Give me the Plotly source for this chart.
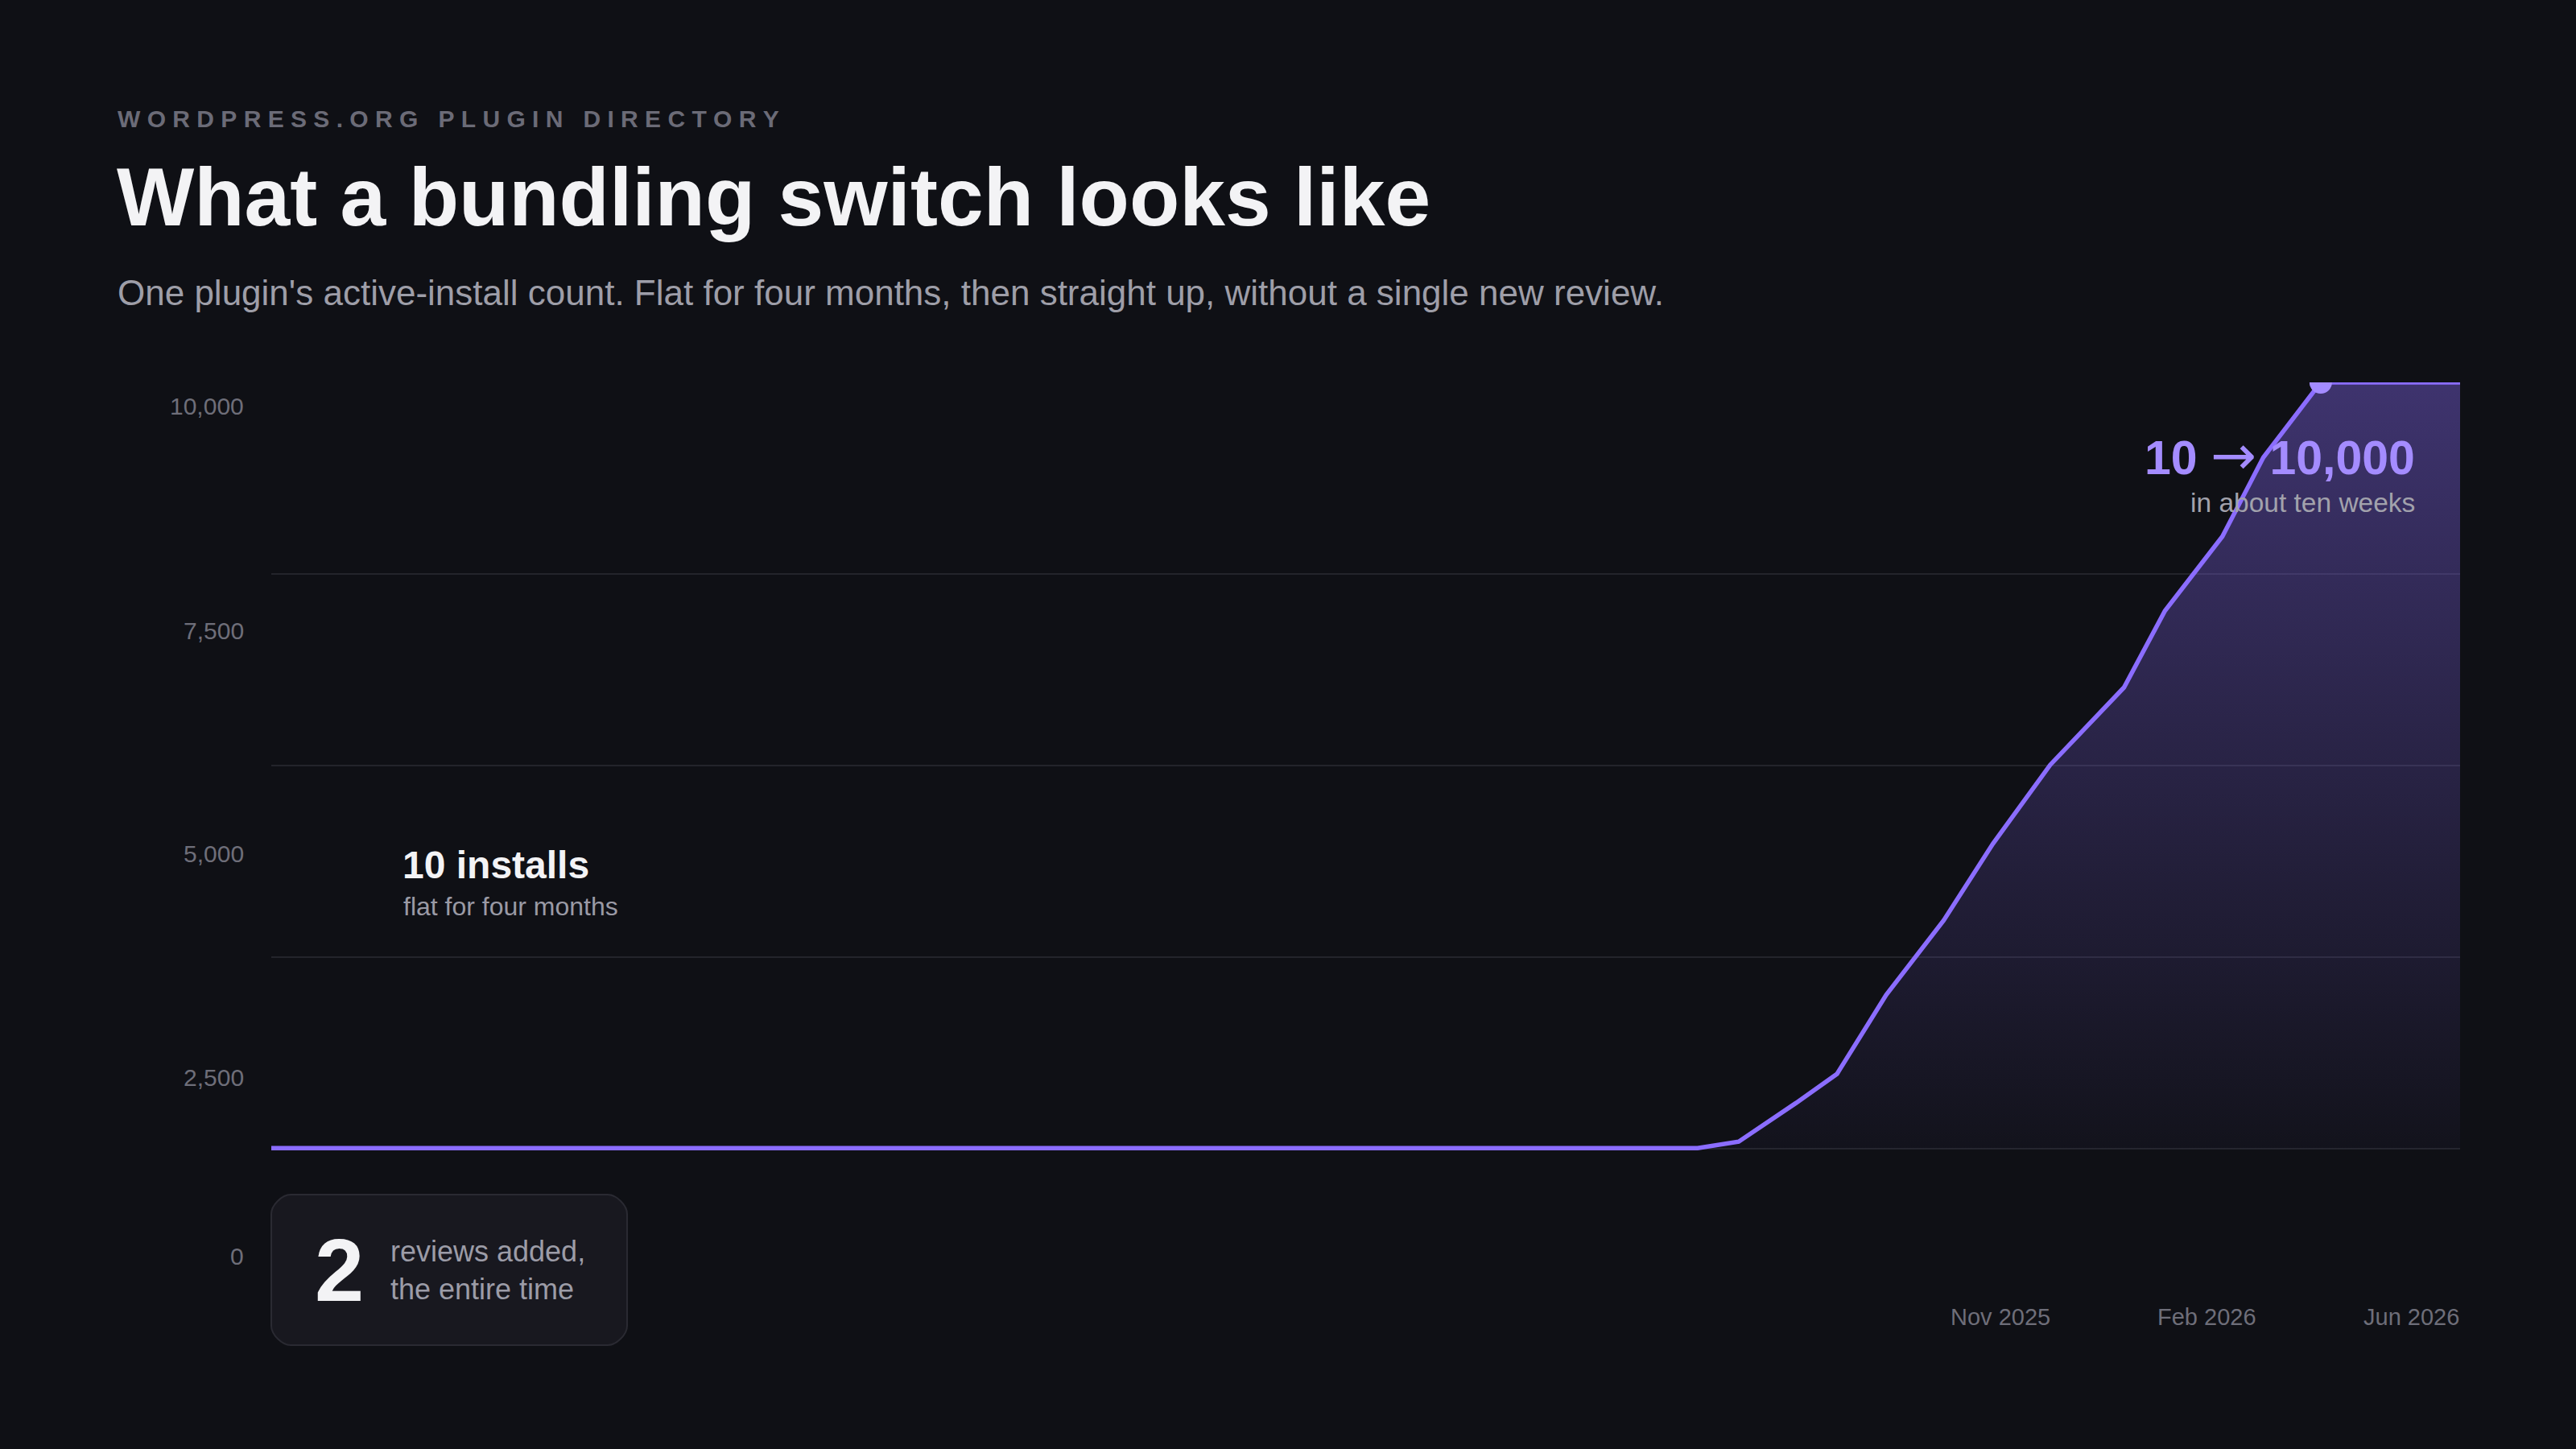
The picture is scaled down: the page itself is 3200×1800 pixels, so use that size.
import plotly.graph_objects as go

# --- data ---------------------------------------------------------------------
snapshot_dates = ["2025-07-01", "2025-12-22", "2025-12-27", "2026-01-03",
                  "2026-01-08", "2026-01-14", "2026-01-21", "2026-01-27",
                  "2026-02-03", "2026-02-12", "2026-02-17", "2026-02-24",
                  "2026-03-01", "2026-03-08", "2026-03-25"]
active_installs = [10, 10, 95, 600, 980, 2010, 2980, 3980, 5010, 6020, 7020,
                   7990, 9020, 10000, 10000]

y_tick_values = [0, 2500, 5000, 7500, 10000]
y_tick_labels = ["10,000", "7,500", "5,000", "2,500", "0"]
x_tick_labels = ["Nov 2025", "Feb 2026", "Jun 2026"]
reviews_added = 2

# --- page geometry (pixels of the 3200x1800 canvas) ---------------------------
W, H = 3200, 1800
L, R, T, B = 337, 3056, 475, 1433      # plot area edges
FONT = "Liberation Sans, Arial, Helvetica, sans-serif"
BG = "#0f1015"
PURPLE = "#8b6dff"
PURPLE_LIGHT = "#a48cff"


def px(x):
    return (x - L) / (R - L)


def py(y):
    return (B - y) / (B - T)


fig = go.Figure()

fig.add_trace(go.Scatter(
    x=snapshot_dates, y=active_installs, mode="lines",
    line=dict(color=PURPLE, width=5.5),
    fill="tozeroy",
    fillgradient=dict(type="vertical", start=0, stop=10000,
                      colorscale=[[0, "rgba(139,109,255,0.03)"],
                                  [1, "rgba(139,109,255,0.38)"]]),
    cliponaxis=True, hoverinfo="skip"))

peak = max(active_installs)
i_peak = active_installs.index(peak)
fig.add_trace(go.Scatter(
    x=[snapshot_dates[i_peak]], y=[peak], mode="markers",
    marker=dict(size=28, color=PURPLE_LIGHT, line=dict(width=0)),
    cliponaxis=True, hoverinfo="skip"))


def note(text, x, y, size, color, xanchor="left", yanchor="middle", bold=False):
    fig.add_annotation(
        text=text, x=px(x), y=py(y), xref="paper", yref="paper",
        showarrow=False, xanchor=xanchor, yanchor=yanchor, align="left",
        borderpad=0,
        font=dict(family=FONT, size=size, color=color,
                  weight="bold" if bold else "normal"))


# header (letter-spaced eyebrow built with no-break spaces)
eyebrow = "\u00a0\u00a0\u00a0".join(
    "\u00a0".join(word) for word in "WORDPRESS.ORG PLUGIN DIRECTORY".split())
note(eyebrow, 145, 147, 30, "#6b6b77", bold=True)
note("What a bundling switch looks like", 144, 245, 102, "#f3f3f5", bold=True)
note("One plugin's active-install count. Flat for four months, then straight up, "
     "without a single new review.", 145, 363, 44, "#9e9ea8")

# misaligned axis labels, as drawn in the original
for label, yc in zip(y_tick_labels, [504, 783, 1060, 1338, 1560]):
    note(label, 304, yc, 30, "#6e6e79", xanchor="right")
note(x_tick_labels[0], 2485, 1636, 29, "#6e6e79", xanchor="center")
note(x_tick_labels[1], 2741, 1636, 29, "#6e6e79", xanchor="center")
note(x_tick_labels[2], 3056, 1636, 29, "#6e6e79", xanchor="right")

# callouts
note(f"{active_installs[0]} installs", 499, 1074, 48, "#f3f3f5", bold=True)
note("flat for four months", 500, 1126, 32, "#9a9aa5")
arrow = ("<span style=\"font-family:'DejaVu Sans';font-weight:normal;"
         "font-size:68px\">\u2192</span>")
note(f"{active_installs[0]} {arrow} {peak:,}", 3001, 565, 59, PURPLE_LIGHT,
     xanchor="right", bold=True)
note("in about ten weeks", 3001, 624, 33.5, "#a2a2ac", xanchor="right")


# reviews card (rounded rectangle drawn as a path in paper space)
def rounded_box(x0, y0, x1, y1, r):
    k = 0.45 * r
    pts = [
        f"M {px(x0 + r)},{py(y0)}", f"L {px(x1 - r)},{py(y0)}",
        f"C {px(x1 - r + k)},{py(y0)} {px(x1)},{py(y0 + r - k)} {px(x1)},{py(y0 + r)}",
        f"L {px(x1)},{py(y1 - r)}",
        f"C {px(x1)},{py(y1 - r + k)} {px(x1 - r + k)},{py(y1)} {px(x1 - r)},{py(y1)}",
        f"L {px(x0 + r)},{py(y1)}",
        f"C {px(x0 + r - k)},{py(y1)} {px(x0)},{py(y1 - r + k)} {px(x0)},{py(y1 - r)}",
        f"L {px(x0)},{py(y0 + r)}",
        f"C {px(x0)},{py(y0 + r - k)} {px(x0 + r - k)},{py(y0)} {px(x0 + r)},{py(y0)}",
        "Z"]
    return " ".join(pts)


fig.add_shape(type="path", xref="paper", yref="paper",
              path=rounded_box(337, 1484, 779, 1671, 24),
              fillcolor="#18181f", line=dict(color="#2a2a32", width=2))
note(str(reviews_added), 390, 1577, 110, "#f3f3f5", bold=True)
fig.add_annotation(
    text="reviews added,<br>the entire time", x=px(484), y=py(1578),
    xref="paper", yref="paper", showarrow=False, xanchor="left",
    yanchor="middle", align="left", borderpad=0,
    font=dict(family=FONT, size=36, color="#9c9ca7"))

fig.update_layout(
    width=W, height=H, autosize=False,
    margin=dict(l=L, r=W - R, t=T, b=H - B, pad=0),
    paper_bgcolor=BG, plot_bgcolor=BG, showlegend=False, hovermode=False,
    xaxis=dict(type="date", range=[snapshot_dates[0], snapshot_dates[-1]],
               showgrid=False, zeroline=False, showline=False,
               showticklabels=False, ticks=""),
    yaxis=dict(range=[-60, 10000], tickvals=y_tick_values, showticklabels=False,
               gridcolor="#23242b", gridwidth=1.5, zeroline=False,
               showline=False, ticks=""),
)

# drop the browser's default body margin so the canvas sits at 0,0
fig.write_html("out.html", config={"displayModeBar": False},
               post_script="document.body.style.margin='0';"
               "document.body.style.background='#0f1015';")
